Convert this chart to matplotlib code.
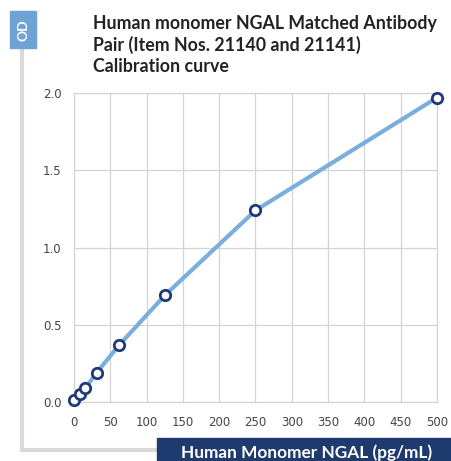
import matplotlib.pyplot as plt
from matplotlib.patches import Rectangle
from matplotlib.lines import Line2D

# ------------------------------------------------------------
# DATA
# ------------------------------------------------------------
conc = [0, 7.8, 15.6, 31.25, 62.5, 125, 250, 500]   # pg/mL
od = [0.01, 0.05, 0.09, 0.19, 0.37, 0.69, 1.24, 1.97]

x_ticks = [0, 50, 100, 150, 200, 250, 300, 350, 400, 450, 500]
y_ticks = [0.0, 0.5, 1.0, 1.5, 2.0]

title = "Human monomer NGAL Matched Antibody\nPair (Item Nos. 21140 and 21141)\nCalibration curve"
x_label = "Human Monomer NGAL (pg/mL)"
y_label = "OD"

# ------------------------------------------------------------
# FIGURE
# ------------------------------------------------------------
W, H = 452, 461
fig = plt.figure(figsize=(W / 100, H / 100), dpi=100)

# axes box in pixel coords: x 74..437, y 93..402 (top-down)
ax = fig.add_axes([74 / W, 1 - 402 / H, (437 - 74) / W, (402 - 93) / H])

ax.plot(conc, od, color="#7aaedc", lw=3, zorder=2, clip_on=False)
ax.plot(conc, od, ls="none", marker="o", ms=7.5, mfc="white", mec="#1f3a78",
        mew=2, zorder=3, clip_on=False)

ax.set_xlim(0, 500)
ax.set_ylim(0, 2.0)
ax.set_xticks(x_ticks)
ax.set_yticks(y_ticks)
ax.set_yticklabels([f"{v:.1f}" for v in y_ticks])
ax.grid(True, color="#d4d4d4", lw=0.9)
ax.set_axisbelow(True)
for s in ax.spines.values():
    s.set_color("#d4d4d4")
    s.set_linewidth(0.9)
ax.tick_params(length=0, labelsize=8.5, labelcolor="#444444")
ax.tick_params(axis="y", pad=9)
ax.tick_params(axis="x", pad=10)

# ------------------------------------------------------------
# DECORATIONS (frame, labels boxes, title)
# ------------------------------------------------------------
def px(x, y):
    return x / W, 1 - y / H

frame_col = "#d9d9d9"
fig.add_artist(Line2D([22.5 / W, 22.5 / W], [1 - 48 / H, 1 - 450 / H],
                      color=frame_col, lw=3, transform=fig.transFigure, zorder=1))
fig.add_artist(Line2D([22.5 / W, 455 / W], [1 - 450 / H, 1 - 450 / H],
                      color=frame_col, lw=3, transform=fig.transFigure, zorder=1))

# OD box
fig.add_artist(Rectangle(px(10, 48), 26 / W, 37 / H, color="#6fa3d6",
                         transform=fig.transFigure, zorder=3))
fig.text(*px(23, 30), y_label, rotation=90, color="white", fontsize=10,
         fontweight="bold", family="Lato", ha="center", va="center", zorder=4)

# x label box
fig.add_artist(Rectangle(px(157, 461), (452 - 157) / W, 23 / H, color="#1f3a6e",
                         transform=fig.transFigure, zorder=3))
fig.text(*px(307, 458), x_label, color="white", fontsize=12.4,
         fontweight="bold", family="Lato", ha="center", va="baseline", zorder=4)

fig.text(*px(93, 15), title, color="#222222", fontsize=12.8, fontweight="bold",
         family="Lato", ha="left", va="top", linespacing=1.27)

fig.savefig("out.png", dpi=100)
